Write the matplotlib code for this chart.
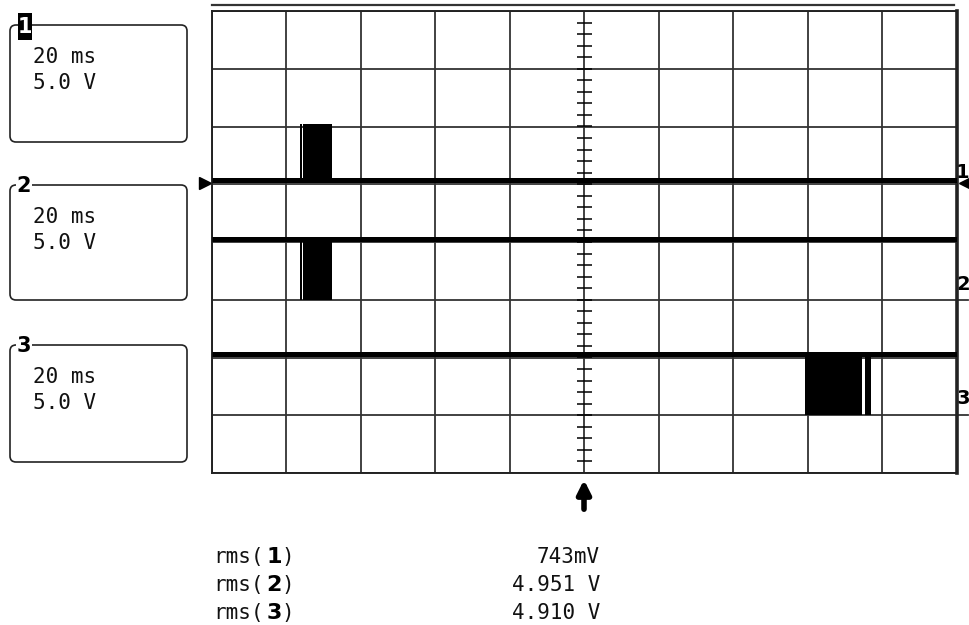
import numpy as np
import matplotlib.pyplot as plt
from matplotlib.patches import FancyBboxPatch, Rectangle

# scope settings
ms_per_div = 20.0
volts_per_div = 5.0
channels = ['1', '2', '3']
box_timebase = ['20 ms', '20 ms', '20 ms']
box_volts = ['5.0 V', '5.0 V', '5.0 V']

# trace levels (V) and screen offsets (divisions)
ch_offset_div = [1.07, -1.0, -3.0]
ch_idle_V = [0.0, 5.3, 5.3]
ch_burst_V = [4.85, 0.0, 0.0]

# burst windows per channel (ms, trigger at 0)
ch_bursts_ms = [
    [(-76.3, -75.9), (-75.6, -67.7)],
    [(-76.3, -75.9), (-75.6, -67.7)],
    [(59.1, 74.6), (75.4, 76.8)],
]

rms_labels = ['1', '2', '3']
rms_values = ['743mV', '4.951 V', '4.910 V']

W, H = 970, 625
fig = plt.figure(figsize=(W / 100, H / 100), dpi=100)

# overlay in pixel coordinates for the screen furniture
ov = fig.add_axes([0, 0, 1, 1])
ov.set_xlim(0, W)
ov.set_ylim(H, 0)
ov.axis('off')

# main graticule
gx0, gx1, gy0, gy1 = 212, 957, 11, 473
ax = fig.add_axes([gx0 / W, (H - gy1) / H, (gx1 - gx0) / W, (gy1 - gy0) / H])
ax.set_xlim(-5 * ms_per_div, 5 * ms_per_div)
ax.set_ylim(-4, 4)
ax.set_xticks(np.arange(-5, 6) * ms_per_div)
ax.set_yticks(np.arange(-4, 5))
ax.tick_params(length=0, labelbottom=False, labelleft=False)
ax.grid(True, color='#333333', lw=1.3)
ax.set_axisbelow(True)
for sp in ax.spines.values():
    sp.set_color('#222222')
    sp.set_linewidth(1.4)
ax.spines['right'].set_linewidth(2.6)

# minor ticks on the centre vertical axis
minor_y = np.arange(-4, 4.001, 0.2)
ax.hlines(minor_y, -2.0, 2.0, color='black', lw=1.1, zorder=2)

# traces
for i in range(len(channels)):
    off = ch_offset_div[i]
    y_idle = off + ch_idle_V[i] / volts_per_div
    y_burst = off + ch_burst_V[i] / volts_per_div
    ax.plot([-5 * ms_per_div, 5 * ms_per_div], [y_idle, y_idle], color='black', lw=3.6,
            solid_capstyle='butt', zorder=3)
    for t0, t1 in ch_bursts_ms[i]:
        ax.fill_between([t0, t1], [y_idle, y_idle], [y_burst, y_burst], color='black',
                        lw=0, zorder=3)

# top double line and right edge bar
ov.plot([212, 954], [5, 5], color='#333333', lw=1.6)
ov.plot([956, 956], [28, 470], color='black', lw=2.6)

# LeCroy logo
ov.text(214, 29, 'LeCroy', fontsize=13, fontweight='bold', family='DejaVu Sans',
        ha='left', va='center', color='black')
ov.plot([214, 262], [42, 42], color='black', lw=2)

# channel boxes
box_tops = [25, 185, 345]
box_bottoms = [142, 300, 462]
for i, ch in enumerate(channels):
    y0, y1 = box_tops[i], box_bottoms[i]
    ov.add_patch(FancyBboxPatch((10, y0), 177, y1 - y0,
                                boxstyle='round,pad=0,rounding_size=6',
                                fc='none', ec='#222222', lw=1.2))
    if i == 0:
        ov.add_patch(Rectangle((18, 13), 14, 27, fc='black', ec='none', zorder=4))
        ov.text(25, 27, ch, fontsize=15, fontweight='bold', color='white',
                ha='center', va='center', zorder=5)
    else:
        ov.text(24, y0 + 1, ch, fontsize=15, fontweight='bold', color='black',
                ha='center', va='center', zorder=5,
                bbox=dict(fc='white', ec='none', pad=0.5))
    ov.text(33, y0 + 32, box_timebase[i], family='DejaVu Sans Mono', fontsize=15,
            ha='left', va='center', color='#111111')
    ov.text(33, y0 + 58, box_volts[i], family='DejaVu Sans Mono', fontsize=15,
            ha='left', va='center', color='#111111')

# trigger markers
ov.plot([205], [183], marker='>', markersize=8, color='black')
ov.plot([965], [183], marker='<', markersize=8, color='black')
ov.annotate('', xy=(584, 477), xytext=(584, 512),
            arrowprops=dict(arrowstyle='-|>', lw=4, color='black', mutation_scale=20))

# right side channel labels
right_label_y = [172, 285, 398]
for ch, y in zip(channels, right_label_y):
    ov.text(963, y, ch, fontsize=14, fontweight='bold', ha='center', va='center')
ov.plot([957, 968], [300, 300], color='#333333', lw=1.3)
ov.plot([957, 968], [415, 415], color='#333333', lw=1.3)

# rms readouts
rms_y = [557, 585, 613]
for lab, val, y in zip(rms_labels, rms_values, rms_y):
    ov.text(213, y, 'rms(', family='DejaVu Sans Mono', fontsize=15, ha='left',
            va='center', color='#111111')
    ov.text(274, y, lab, fontsize=16, fontweight='bold', ha='center', va='center')
    ov.text(281, y, ')', family='DejaVu Sans Mono', fontsize=15, ha='left',
            va='center', color='#111111')
    ov.text(600, y, val, family='DejaVu Sans Mono', fontsize=15, ha='right',
            va='center', color='#111111')

fig.savefig('out.png', dpi=100, facecolor='white')
